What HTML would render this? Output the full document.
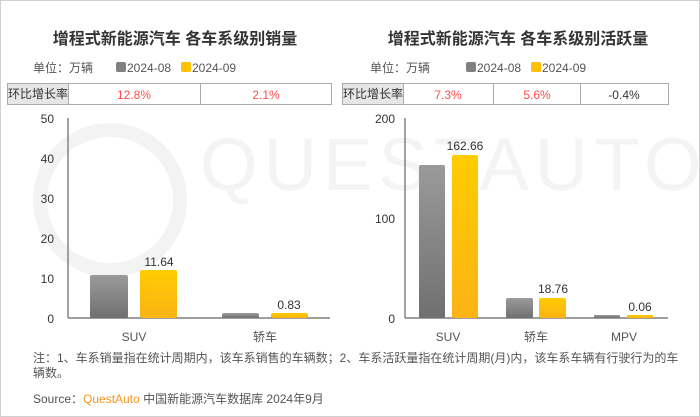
<!DOCTYPE html>
<html><head><meta charset="utf-8"><style>
body{margin:0;background:#fff}
svg{display:block;font-family:"Liberation Sans","Noto Sans CJK SC",sans-serif}
</style></head><body>
<svg width="700" height="417" viewBox="0 0 700 417">
<defs>
<linearGradient id="g" x1="0" y1="0" x2="0" y2="1"><stop offset="0" stop-color="#9a9a9a"/><stop offset="1" stop-color="#707070"/></linearGradient>
<linearGradient id="y" x1="0" y1="0" x2="0" y2="1"><stop offset="0" stop-color="#ffcc00"/><stop offset="1" stop-color="#fbb315"/></linearGradient>
</defs>
<rect x="0.5" y="0.5" width="699" height="416" fill="#fff" stroke="#d0d0d0"/>
<!-- watermark -->
<circle cx="110" cy="200" r="70" fill="none" stroke="#f3f3f3" stroke-width="14"/>
<text x="200" y="190" font-size="74" fill="#f4f4f4" letter-spacing="6">QUESTAUTO</text>
<!-- titles -->
<text x="175" y="44" font-size="16" font-weight="bold" fill="#333" text-anchor="middle">增程式新能源汽车 各车系级别销量</text>
<text x="518" y="44" font-size="16" font-weight="bold" fill="#333" text-anchor="middle">增程式新能源汽车 各车系级别活跃量</text>
<g font-size="12" fill="#555">
<text x="33" y="72">单位：万辆</text>
<rect x="116" y="62" width="10" height="10" rx="2" fill="#808080"/><text x="127" y="72">2024-08</text>
<rect x="181" y="62" width="10" height="10" rx="2" fill="#ffc000"/><text x="192" y="72">2024-09</text>
<text x="370" y="72">单位：万辆</text>
<rect x="466" y="62" width="10" height="10" rx="2" fill="#808080"/><text x="477" y="72">2024-08</text>
<rect x="531" y="62" width="10" height="10" rx="2" fill="#ffc000"/><text x="542" y="72">2024-09</text>
</g>
<!-- tables -->
<g stroke="#aaa" stroke-width="1" font-size="12">
<rect x="7.5" y="83.5" width="61" height="21" fill="#e6e6e6"/>
<rect x="68.5" y="83.5" width="132" height="21" fill="#fff"/>
<rect x="200.5" y="83.5" width="131" height="21" fill="#fff"/>
<rect x="342.5" y="83.5" width="61" height="21" fill="#e6e6e6"/>
<rect x="403.5" y="83.5" width="90" height="21" fill="#fff"/>
<rect x="493.5" y="83.5" width="87" height="21" fill="#fff"/>
<rect x="580.5" y="83.5" width="88" height="21" fill="#fff"/>
</g>
<g font-size="12" text-anchor="middle" stroke="none">
<text x="38" y="98" fill="#333">环比增长率</text>
<text x="134" y="99" fill="#ff4d4d">12.8%</text>
<text x="266" y="99" fill="#ff4d4d">2.1%</text>
<text x="373" y="98" fill="#333">环比增长率</text>
<text x="448" y="99" fill="#ff4d4d">7.3%</text>
<text x="537" y="99" fill="#ff4d4d">5.6%</text>
<text x="624" y="99" fill="#333">-0.4%</text>
</g>
<!-- left axes -->
<g stroke="#666" stroke-width="1.2"><line x1="68" y1="118" x2="68" y2="318"/><line x1="68" y1="318" x2="330" y2="318"/>
<line x1="405" y1="118" x2="405" y2="318"/><line x1="405" y1="318" x2="668" y2="318"/></g>
<g font-size="12" fill="#333" text-anchor="end">
<text x="54" y="123">50</text><text x="54" y="163">40</text><text x="54" y="203">30</text><text x="54" y="243">20</text><text x="54" y="283">10</text><text x="54" y="323">0</text>
<text x="395" y="123">200</text><text x="395" y="223">100</text><text x="395" y="323">0</text>
</g>
<!-- bars left -->
<rect x="90" y="275" width="38" height="43" rx="2" fill="url(#g)"/>
<rect x="140" y="270" width="37" height="48" rx="2" fill="url(#y)"/>
<rect x="222" y="313" width="37" height="5" rx="2" fill="url(#g)"/>
<rect x="271" y="313" width="37" height="5" rx="2" fill="url(#y)"/>
<!-- bars right -->
<rect x="419" y="165" width="26" height="153" rx="2" fill="url(#g)"/>
<rect x="452" y="155" width="26" height="163" rx="2" fill="url(#y)"/>
<rect x="506" y="298" width="27" height="20" rx="2" fill="url(#g)"/>
<rect x="539" y="298" width="27" height="20" rx="2" fill="url(#y)"/>
<rect x="594" y="315" width="26" height="3" rx="1" fill="url(#g)"/>
<rect x="627" y="315" width="26" height="3" rx="1" fill="url(#y)"/>
<g font-size="12" fill="#333" text-anchor="middle">
<text x="159" y="266">11.64</text><text x="289" y="309">0.83</text>
<text x="465" y="150">162.66</text><text x="553" y="293">18.76</text><text x="640" y="311">0.06</text>
</g>
<g font-size="12" fill="#555" text-anchor="middle">
<text x="134" y="341">SUV</text><text x="265" y="341">轿车</text>
<text x="448" y="341">SUV</text><text x="536" y="341">轿车</text><text x="624" y="341">MPV</text>
</g>
<g font-size="12" fill="#555">
<text x="33" y="362">注：1、车系销量指在统计周期内，该车系销售的车辆数；2、车系活跃量指在统计周期(月)内，该车系车辆有行驶行为的车</text>
<text x="33" y="377">辆数。</text>
<text x="33" y="403">Source：<tspan fill="#f7941d">QuestAuto</tspan> 中国新能源汽车数据库 2024年9月</text>
</g>
</svg>
</body></html>
